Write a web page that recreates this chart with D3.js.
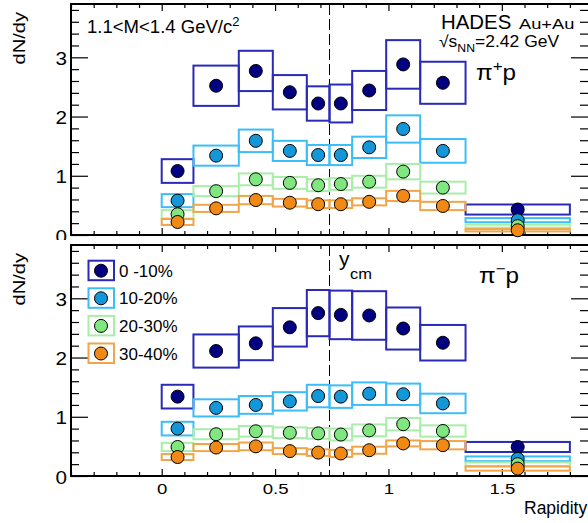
<!DOCTYPE html>
<html><head><meta charset="utf-8">
<script src="https://cdn.jsdelivr.net/npm/d3@7"></script>
<style>
body{margin:0;background:#fff}
svg{display:block}
text{font-family:"Liberation Sans",Arial,Helvetica,sans-serif;fill:#000}
</style>
</head><body>
<svg id="chart" width="588" height="523"></svg>
<script>
// ---------------- DATA ----------------
const binEdges = [0, 0.14, 0.34, 0.49, 0.64, 0.74, 0.84, 0.99, 1.14, 1.34, 1.8];
const centralities = ["0 -10%", "10-20%", "20-30%", "30-40%"];
const yTickValues = [0, 1, 2, 3];
const xTickValues = [0, 0.5, 1, 1.5];
const xTickLabels = ["0", "0.5", "1", "1.5"];
const yCM = 0.74;

// pi+ p  (top panel): values and systematic half-widths
const pipC0 = [1.08, 2.52, 2.77, 2.41, 2.22, 2.22, 2.44, 2.88, 2.57, 0.43];
const pipC0Sys = [0.20, 0.34, 0.34, 0.29, 0.29, 0.32, 0.33, 0.41, 0.355, 0.085];
const pipC1 = [0.58, 1.34, 1.59, 1.42, 1.35, 1.35, 1.48, 1.79, 1.42, 0.25];
const pipC1Sys = [0.11, 0.17, 0.19, 0.17, 0.17, 0.17, 0.18, 0.23, 0.20, 0.035];
const pipC2 = [0.35, 0.74, 0.94, 0.88, 0.84, 0.86, 0.90, 1.07, 0.80, 0.15];
const pipC2Sys = [0.07, 0.085, 0.10, 0.10, 0.10, 0.10, 0.10, 0.13, 0.10, 0.025];
const pipC3 = [0.22, 0.45, 0.59, 0.545, 0.52, 0.52, 0.56, 0.66, 0.49, 0.08];
const pipC3Sys = [0.05, 0.06, 0.07, 0.065, 0.065, 0.065, 0.06, 0.085, 0.07, 0.02];

// pi- p  (bottom panel)
const pimC0 = [1.34, 2.11, 2.24, 2.51, 2.75, 2.72, 2.71, 2.49, 2.25, 0.49];
const pimC0Sys = [0.20, 0.28, 0.285, 0.325, 0.39, 0.41, 0.41, 0.355, 0.30, 0.085];
const pimC1 = [0.80, 1.15, 1.20, 1.26, 1.35, 1.34, 1.39, 1.38, 1.225, 0.29];
const pimC1Sys = [0.115, 0.145, 0.15, 0.155, 0.19, 0.19, 0.19, 0.18, 0.165, 0.04];
const pimC2 = [0.49, 0.705, 0.755, 0.73, 0.72, 0.70, 0.77, 0.875, 0.76, 0.20];
const pimC2Sys = [0.07, 0.085, 0.09, 0.09, 0.09, 0.10, 0.10, 0.105, 0.095, 0.03];
const pimC3 = [0.32, 0.48, 0.50, 0.42, 0.395, 0.38, 0.435, 0.55, 0.52, 0.125];
const pimC3Sys = [0.05, 0.06, 0.065, 0.05, 0.055, 0.06, 0.06, 0.05, 0.07, 0.035];

// ---------------- STYLE ----------------
const markerFill = ["#000080", "#1497d9", "#80e67f", "#f08a14"];
const boxStroke = ["#2a2ab8", "#3cbdf8", "#a8eea8", "#f2a548"];

const svg = d3.select("#chart");
const x = d3.scaleLinear().domain([-0.4, 1.88]).range([71, 588]);

function label(parent, px, py, parts, o = {}) {
  const size = o.size || 16, sx = o.sx || 1, rot = o.rot || 0, anchor = o.anchor || "start";
  const g = parent.append("g").attr("transform", `translate(${px},${py}) rotate(${rot}) scale(${sx},1)`);
  const t = g.append("text").attr("font-size", size).attr("text-anchor", anchor);
  let shift = 0;
  parts.forEach(p => {
    const [s, k] = typeof p === "string" ? [p, null] : p;
    const target = k === "sup" ? -0.42 * size : k === "sub" ? 0.3 * size : 0;
    const ts = t.append("tspan").attr("dy", target - shift).text(s);
    if (k) ts.attr("font-size", size * 0.7);
    shift = target;
  });
  return g;
}

function styleAxis(g) {
  g.select(".domain").remove();
  g.selectAll(".tick line").attr("stroke", "#000").attr("stroke-width", 1.2);
  g.selectAll(".tick text").attr("font-family", '"Liberation Sans",Arial,sans-serif').attr("fill", "#000");
}

const minorY = d3.range(0, 20).map(i => i / 5).filter(v => v <= 3.9 && !yTickValues.includes(v));
const minorX = d3.range(-4, 19).map(i => i / 10).filter(v => !xTickValues.includes(v));

function drawPanel(yTopPx, yBotPx, series, sysSeries, opts) {
  const y = d3.scaleLinear().domain([0, 3.9]).range([yBotPx, yTopPx]);
  const g = svg.append("g");

  const la = g.append("g").attr("transform", "translate(71,0)")
    .call(d3.axisLeft(y).tickValues(yTickValues).tickSizeInner(-17).tickSizeOuter(0).tickPadding(4).tickFormat(d3.format("d")));
  styleAxis(la);
  la.selectAll(".tick text").attr("font-size", 18).attr("transform", "scale(1.15,1)").attr("x", -4 / 1.15).attr("dy", "0.4em");
  const lm = g.append("g").attr("transform", "translate(71,0)")
    .call(d3.axisLeft(y).tickValues(minorY).tickSizeInner(-8).tickSizeOuter(0).tickFormat(""));
  styleAxis(lm);
  const ra = g.append("g").attr("transform", "translate(588,0)")
    .call(d3.axisRight(y).tickValues(yTickValues).tickSizeInner(-17).tickSizeOuter(0).tickFormat(""));
  styleAxis(ra);
  const rm = g.append("g").attr("transform", "translate(588,0)")
    .call(d3.axisRight(y).tickValues(minorY).tickSizeInner(-8).tickSizeOuter(0).tickFormat(""));
  styleAxis(rm);
  const ba = g.append("g").attr("transform", `translate(0,${yBotPx})`)
    .call(d3.axisBottom(x).tickValues(xTickValues).tickSizeInner(-7).tickSizeOuter(0).tickPadding(7)
      .tickFormat((d, i) => opts.xLabels ? xTickLabels[i] : ""));
  styleAxis(ba);
  ba.selectAll(".tick text").attr("font-size", 15.5).attr("transform", "scale(1.2,1)");
  const bm = g.append("g").attr("transform", `translate(0,${yBotPx})`)
    .call(d3.axisBottom(x).tickValues(minorX).tickSizeInner(-4).tickSizeOuter(0).tickFormat(""));
  styleAxis(bm);
  const ta = g.append("g").attr("transform", `translate(0,${yTopPx})`)
    .call(d3.axisTop(x).tickValues(xTickValues).tickSizeInner(-7).tickSizeOuter(0).tickFormat(""));
  styleAxis(ta);
  const tm = g.append("g").attr("transform", `translate(0,${yTopPx})`)
    .call(d3.axisTop(x).tickValues(minorX).tickSizeInner(-4).tickSizeOuter(0).tickFormat(""));
  styleAxis(tm);

  g.append("path").attr("d", `M588,${yTopPx}H71V${yBotPx}H588`)
    .attr("fill", "none").attr("stroke", "#000").attr("stroke-width", 2);

  g.append("line").attr("x1", x(yCM)).attr("x2", x(yCM)).attr("y1", yTopPx).attr("y2", yBotPx)
    .attr("stroke", "#000").attr("stroke-width", 1).attr("stroke-dasharray", "11,4");

  const bins = d3.range(binEdges.length - 1);
  series.forEach((vals, s) => {
    g.append("g").selectAll("rect").data(bins).join("rect")
      .attr("x", i => x(binEdges[i]))
      .attr("width", i => x(binEdges[i + 1]) - x(binEdges[i]))
      .attr("y", i => y(vals[i] + sysSeries[s][i]))
      .attr("height", i => y(vals[i] - sysSeries[s][i]) - y(vals[i] + sysSeries[s][i]))
      .attr("fill", "none").attr("stroke", boxStroke[s]).attr("stroke-width", 2);
  });
  series.forEach((vals, s) => {
    g.append("g").selectAll("circle").data(bins).join("circle")
      .attr("cx", i => x((binEdges[i] + binEdges[i + 1]) / 2))
      .attr("cy", i => y(vals[i]))
      .attr("r", 6.5)
      .attr("fill", markerFill[s]).attr("stroke", "#000").attr("stroke-width", 1);
  });
  return { g, y };
}

const topPanel = drawPanel(4, 235, [pipC0, pipC1, pipC2, pipC3], [pipC0Sys, pipC1Sys, pipC2Sys, pipC3Sys], { xLabels: false });
label(topPanel.g, 25, 12, ["dN/dy"], { size: 16.5, sx: 1.22, rot: -90, anchor: "end" });
label(topPanel.g, 87, 33, ["1.1<M<1.4 GeV/c", ["2", "sup"]], { size: 17.5, sx: 1.06 });
label(topPanel.g, 441, 29, ["HADES"], { size: 20, sx: 1.02 });
label(topPanel.g, 519, 29, ["Au+Au"], { size: 15, sx: 1.22 });
label(topPanel.g, 439, 47, ["\u221A", "s", ["NN", "sub"], "=2.42 GeV"], { size: 16.5, sx: 1.06 });
label(topPanel.g, 476, 80, ["\u03C0", ["+", "sup"], "p"], { size: 22, sx: 1.1 });

svg.append("rect").attr("x", 0).attr("y", 240).attr("width", 588).attr("height", 283).attr("fill", "#fff");

const botPanel = drawPanel(245, 476, [pimC0, pimC1, pimC2, pimC3], [pimC0Sys, pimC1Sys, pimC2Sys, pimC3Sys], { xLabels: true });
label(botPanel.g, 25, 253, ["dN/dy"], { size: 16.5, sx: 1.22, rot: -90, anchor: "end" });
label(botPanel.g, 479, 283, ["\u03C0", ["\u2212", "sup"], "p"], { size: 22, sx: 1.1 });
label(botPanel.g, 339, 266, ["y"], { size: 20, sx: 1.05 });
label(botPanel.g, 350, 279, ["cm"], { size: 15, sx: 1.1 });
label(botPanel.g, 524, 514, ["Rapidity"], { size: 17.5, sx: 1.0 });

const legY0 = 270.7, legStep = 27.6;
centralities.forEach((c, i) => {
  const cy = legY0 + i * legStep;
  botPanel.g.append("rect").attr("x", 88.5).attr("y", cy - 10).attr("width", 25.5).attr("height", 19.5)
    .attr("fill", "none").attr("stroke", boxStroke[i]).attr("stroke-width", 2);
  botPanel.g.append("circle").attr("cx", 101).attr("cy", cy).attr("r", 6.5)
    .attr("fill", markerFill[i]).attr("stroke", "#000").attr("stroke-width", 1);
  label(botPanel.g, 119, cy + 6, [c], { size: 16.5, sx: 1.03 });
});
</script>
</body></html>
